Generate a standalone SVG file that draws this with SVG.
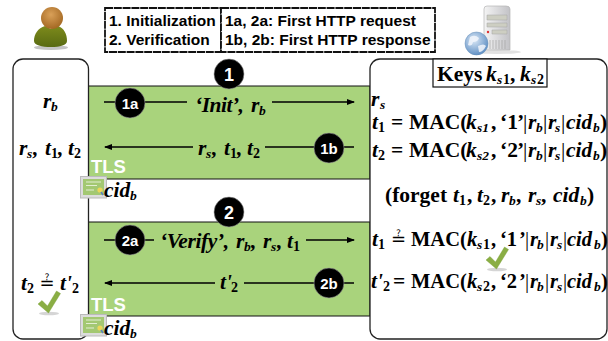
<svg xmlns="http://www.w3.org/2000/svg" width="608" height="341" viewBox="0 0 608 341">
<style>
text{font-family:"Liberation Serif","Times New Roman",serif;font-weight:bold;fill:#000;font-size:21.500px}
.i{font-style:italic}
.s{font-size:13.500px;font-style:italic}
.n{font-size:14px;font-style:normal}
.bar{font-weight:normal}
.q{font-family:"DejaVu Sans",sans-serif;font-weight:normal;font-size:18px}
.leg{font-family:"Liberation Sans",Arial,sans-serif;font-size:15.500px}
.lb{fill:#fff;stroke:#111;stroke-width:1.800;stroke-dasharray:8 .8}
.box{fill:#fff;stroke:#222;stroke-width:1.300}
.band{fill:#a9d37c;stroke:#111;stroke-width:1}
.cn{stroke:#000;stroke-width:1.300;fill:none}
.b{fill:#000;stroke:#999;stroke-width:.6}
.bt{font-family:"Liberation Sans",Arial,sans-serif;fill:#fff;text-anchor:middle;font-size:15px}
.tls{font-family:"Liberation Sans",Arial,sans-serif;fill:#fff;font-size:18.500px}
</style>
<defs>
<marker id="arr" markerWidth="8" markerHeight="6" refX="7" refY="3" orient="auto" markerUnits="userSpaceOnUse"><path d="M0 0L8 3L0 6Z" fill="#000"/></marker>
<radialGradient id="hd" cx=".45" cy=".35" r=".7"><stop offset="0" stop-color="#d9a058"/><stop offset="1" stop-color="#a0641f"/></radialGradient>
<linearGradient id="bd" x1="0" y1="0" x2="0" y2="1"><stop offset="0" stop-color="#7d8a1c"/><stop offset="1" stop-color="#596b12"/></linearGradient>
<linearGradient id="srv" x1="0" y1="0" x2="1" y2="0"><stop offset="0" stop-color="#f4f4f4"/><stop offset="1" stop-color="#c2c2c6"/></linearGradient>
<radialGradient id="gl" cx=".4" cy=".35" r=".7"><stop offset="0" stop-color="#dbe8f6"/><stop offset="1" stop-color="#5a8cc2"/></radialGradient>
<g id="cert"><rect x=".5" y=".5" width="26" height="21.500" fill="#dcdcdc" stroke="#bbb"/><rect x="3" y="3" width="21" height="16" fill="#a3c872"/><path d="M6 6H21M6 9.500H17M6 14H14" stroke="#e2eed2" stroke-width="1" fill="none"/><circle cx="20" cy="14" r="2.600" fill="#ecd75a"/><path d="M21 16l2 3" stroke="#5a80c0" stroke-width="1.500"/></g>
<g id="chk"><ellipse cx="11" cy="22.500" rx="10" ry="1.800" fill="#d5d5d5"/><path d="M0 13L4 9.500L9.500 15L18.500 0L22.500 2.500L10.500 22Z" fill="#8aae44" stroke="#7a9f36" stroke-width=".4"/></g>
</defs>

<g id="band1"><rect class="band" x="88" y="86" width="282" height="93"/><text class="tls" x="91" y="173">TLS</text></g>
<g id="band2"><rect class="band" x="88" y="222" width="282" height="94"/><text class="tls" x="91" y="311">TLS</text></g>

<g id="client-icon">
<ellipse cx="51" cy="47.500" rx="17" ry="2.500" fill="#c4c4c4"/>
<path d="M34 41C34 34 38 28 45 26L51 29L58 26C64 28 67 34 67 41C67 45 60 47 51 47C42 47 34 45 34 41Z" fill="url(#bd)"/>
<circle cx="52" cy="18" r="11" fill="url(#hd)"/>
</g>
<g id="server-icon">
<ellipse cx="497" cy="52" rx="24" ry="2" fill="#e2e2e2"/>
<path d="M484 9Q484 6 487 6H506Q510 6 510 9V50H484Z" fill="url(#srv)" stroke="#b5b5b5" stroke-width=".7"/>
<path d="M487 15H507V20H487ZM487 23H507V27H487ZM492 30H507V34H492Z" fill="#cdcec2" stroke="#a5a5a5" stroke-width=".5"/>
<circle cx="488" cy="32" r="1.200" fill="#d33"/>
<path d="M490 40V49M493 40V49M496 40V49M499 40V49M502 40V49M505 40V49" stroke="#a5a5a5" stroke-width=".7"/>
<circle cx="476.500" cy="43.500" r="11.500" fill="url(#gl)" stroke="#6a90b8" stroke-width=".5"/>
<path d="M470 37Q475 34 479 38Q478 42 473 42Q472 47 468 45ZM478 46Q484 43 486 46Q483 52 479 52Z" fill="#f2f6fb" opacity=".85"/>
</g>

<g id="legend">
<rect class="lb" x="105" y="8" width="116" height="44"/>
<rect class="lb" x="221" y="8" width="214" height="44"/>
<text class="leg" x="109" y="26">1. Initialization</text>
<text class="leg" x="109" y="45">2. Verification</text>
<text class="leg" x="225" y="26">1a, 2a: First HTTP request</text>
<text class="leg" x="225" y="45">1b, 2b: First HTTP response</text>
</g>

<g id="client">
<rect class="box" x="13" y="59" width="75.500" height="280" rx="10"/>
<text x="43" y="108" class="i">r<tspan class="s" x="51" y="111">b</tspan></text>
<text x="19" y="155" class="i">r<tspan class="s" x="27" y="158">s</tspan><tspan x="33" y="155">,</tspan><tspan x="45" y="155">t</tspan><tspan class="n" x="51" y="158">1</tspan><tspan x="58" y="155">,</tspan><tspan x="68" y="155">t</tspan><tspan class="n" x="74" y="158">2</tspan></text>
<text x="21" y="290" class="i">t<tspan class="n" x="27" y="293">2</tspan></text>
<text class="q" x="39.500" y="289">≟</text>
<text x="60" y="290" class="i">t'<tspan class="n" x="72" y="293">2</tspan></text>
<use href="#chk" x="38" y="291"/>
</g>

<g id="server">
<rect class="box" x="370" y="59" width="237" height="280" rx="10"/>
<rect x="433" y="59" width="114" height="28" fill="#fff" stroke="#111" stroke-width="1.200"/>
<text x="437" y="81">Keys<tspan class="i" x="486" y="81">k</tspan><tspan class="s" x="497" y="84">s</tspan><tspan class="n" x="503" y="84">1</tspan><tspan x="510" y="81">,</tspan><tspan class="i" x="520" y="81">k</tspan><tspan class="s" x="531" y="84">s</tspan><tspan class="n" x="537" y="84">2</tspan></text>
<text x="371" y="106" class="i">r<tspan class="s" x="380" y="109">s</tspan></text>
<text x="372" y="129"><tspan class="i">t</tspan><tspan class="n" x="378" y="132">1</tspan><tspan x="391" y="129">=</tspan><tspan x="409" y="129">MAC(</tspan><tspan class="i" x="466" y="129">k</tspan><tspan class="s" x="477" y="132">s1</tspan><tspan x="491" y="129">,</tspan><tspan x="500" y="129">‘1</tspan><tspan x="517" y="129">’</tspan><tspan class="bar" x="523" y="129">|</tspan><tspan class="i" x="528" y="129">r</tspan><tspan class="s" x="536" y="132">b</tspan><tspan class="bar" x="543" y="129">|</tspan><tspan class="i" x="548" y="129">r</tspan><tspan class="s" x="555" y="132">s</tspan><tspan class="bar" x="561" y="129">|</tspan><tspan class="i" x="566" y="129">cid</tspan><tspan class="s" x="593" y="132">b</tspan><tspan x="600" y="129">)</tspan></text>
<text x="372" y="157"><tspan class="i">t</tspan><tspan class="n" x="378" y="160">2</tspan><tspan x="391" y="157">=</tspan><tspan x="409" y="157">MAC(</tspan><tspan class="i" x="466" y="157">k</tspan><tspan class="s" x="477" y="160">s2</tspan><tspan x="491" y="157">,</tspan><tspan x="500" y="157">‘2</tspan><tspan x="517" y="157">’</tspan><tspan class="bar" x="523" y="157">|</tspan><tspan class="i" x="528" y="157">r</tspan><tspan class="s" x="536" y="160">b</tspan><tspan class="bar" x="543" y="157">|</tspan><tspan class="i" x="548" y="157">r</tspan><tspan class="s" x="555" y="160">s</tspan><tspan class="bar" x="561" y="157">|</tspan><tspan class="i" x="566" y="157">cid</tspan><tspan class="s" x="593" y="160">b</tspan><tspan x="600" y="157">)</tspan></text>
<text x="385" y="202">(forget<tspan class="i" x="453" y="202">t</tspan><tspan class="n" x="459" y="205">1</tspan><tspan x="467" y="202">,</tspan><tspan class="i" x="477" y="202">t</tspan><tspan class="n" x="483" y="205">2</tspan><tspan x="491" y="202">,</tspan><tspan class="i" x="501" y="202">r</tspan><tspan class="s" x="509" y="205">b</tspan><tspan x="516" y="202">,</tspan><tspan class="i" x="528" y="202">r</tspan><tspan class="s" x="536" y="205">s</tspan><tspan x="541" y="202">,</tspan><tspan class="i" x="553" y="202">cid</tspan><tspan class="s" x="580" y="205">b</tspan><tspan x="587" y="202">)</tspan></text>
<text x="372" y="246" class="i">t<tspan class="n" x="378" y="249">1</tspan></text>
<text class="q" x="391" y="245">≟</text>
<text x="411" y="246" style="font-size:20.500px">MAC(<tspan class="i" x="467" y="246">k</tspan><tspan class="s" x="477" y="249">s</tspan><tspan class="n" x="483" y="249">1</tspan><tspan x="491" y="246">,</tspan><tspan x="500" y="246">‘1</tspan><tspan x="519" y="246">’</tspan><tspan class="bar" x="525" y="246">|</tspan><tspan class="i" x="530" y="246">r</tspan><tspan class="s" x="537" y="249">b</tspan><tspan class="bar" x="545" y="246">|</tspan><tspan class="i" x="550" y="246">r</tspan><tspan class="s" x="557" y="249">s</tspan><tspan class="bar" x="563" y="246">|</tspan><tspan class="i" x="567" y="246">cid</tspan><tspan class="s" x="594" y="249">b</tspan><tspan x="601" y="246">)</tspan></text>
<text x="371" y="288" class="i">t'<tspan class="n" style="font-weight:bold" x="383" y="291">2</tspan><tspan style="font-style:normal" x="393" y="288">=</tspan></text>
<text x="411" y="288" style="font-size:20.500px">MAC(<tspan class="i" x="467" y="288">k</tspan><tspan class="s" x="477" y="291">s</tspan><tspan class="n" x="483" y="291">2</tspan><tspan x="491" y="288">,</tspan><tspan x="500" y="288">‘2</tspan><tspan x="519" y="288">’</tspan><tspan class="bar" x="525" y="288">|</tspan><tspan class="i" x="530" y="288">r</tspan><tspan class="s" x="537" y="291">b</tspan><tspan class="bar" x="545" y="288">|</tspan><tspan class="i" x="550" y="288">r</tspan><tspan class="s" x="557" y="291">s</tspan><tspan class="bar" x="563" y="288">|</tspan><tspan class="i" x="567" y="288">cid</tspan><tspan class="s" x="594" y="291">b</tspan><tspan x="601" y="288">)</tspan></text>
<use href="#chk" x="486" y="247"/>
</g>

<g id="cid1"><use href="#cert" x="80" y="176"/><text class="i" x="104" y="197">cid<tspan class="s" x="130" y="200">b</tspan></text></g>
<g id="cid2"><use href="#cert" x="80" y="314"/><text class="i" x="104" y="335">cid<tspan class="s" x="130" y="338">b</tspan></text></g>

<g id="connectors">
<path class="cn" d="M104 102H187M272 102H354" marker-end="url(#arr)"/>
<path class="cn" d="M354 147H265M193 147H105" marker-end="url(#arr)"/>
<path class="cn" d="M104 240H154M306 240H354" marker-end="url(#arr)"/>
<path class="cn" d="M354 283H244M215 283H105" marker-end="url(#arr)"/>
</g>
<g id="labels">
<text class="i" x="195" y="112" style="letter-spacing:-.5px">‘Init’,<tspan x="251" y="112">r</tspan><tspan class="s" x="259" y="115">b</tspan></text>
<text class="i" x="198" y="155">r<tspan class="s" x="206" y="158">s</tspan><tspan x="212" y="155">,</tspan><tspan x="224" y="155">t</tspan><tspan class="n" x="230" y="158">1</tspan><tspan x="237" y="155">,</tspan><tspan x="247" y="155">t</tspan><tspan class="n" x="253" y="158">2</tspan></text>
<text class="i" x="160" y="248" style="letter-spacing:-.4px">‘Verify’,<tspan x="236" y="248">r</tspan><tspan class="s" x="244" y="251">b</tspan><tspan x="251" y="248">,</tspan><tspan x="263" y="248">r</tspan><tspan class="s" x="271" y="251">s</tspan><tspan x="277" y="248">,</tspan><tspan x="287" y="248">t</tspan><tspan class="n" x="293" y="251">1</tspan></text>
<text class="i" x="220" y="289">t'<tspan class="n" x="231" y="292">2</tspan></text>
</g>

<g id="b1"><circle class="b" cx="229" cy="74" r="15"/><text class="bt" x="229" y="80.500" style="font-size:18px">1</text></g>
<g id="b1a"><circle class="b" cx="130" cy="103" r="15"/><text class="bt" x="130" y="108.500">1a</text></g>
<g id="b1b"><circle class="b" cx="329" cy="148" r="15"/><text class="bt" x="329" y="153.500">1b</text></g>
<g id="b2"><circle class="b" cx="229" cy="212" r="15"/><text class="bt" x="229" y="218.500" style="font-size:18px">2</text></g>
<g id="b2a"><circle class="b" cx="130" cy="240" r="15"/><text class="bt" x="130" y="245.500">2a</text></g>
<g id="b2b"><circle class="b" cx="329" cy="283" r="15"/><text class="bt" x="329" y="288.500">2b</text></g>
</svg>
